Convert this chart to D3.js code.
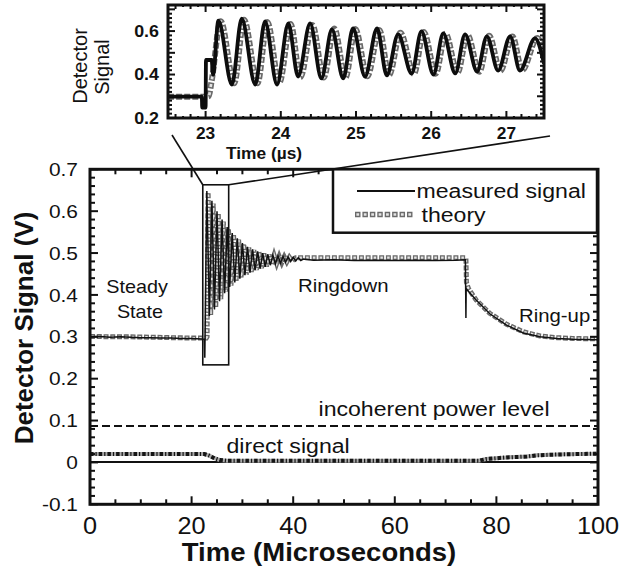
<!DOCTYPE html>
<html><head><meta charset="utf-8">
<script src="https://cdn.jsdelivr.net/npm/d3@7"></script>
<style>body{margin:0;background:#fff}svg{display:block;font-family:"Liberation Sans",Arial,sans-serif}</style>
</head><body><svg id="c" width="641" height="569"></svg>
<script>
// ---------- DATA ----------
const xTicks = [0, 20, 40, 60, 80, 100];
const yTicks = [-0.1, 0, 0.1, 0.2, 0.3, 0.4, 0.5, 0.6, 0.7];
const yTickLabels = ["-0.1", "0", "0.1", "0.2", "0.3", "0.4", "0.5", "0.6", "0.7"];
const insetXTicks = [23, 24, 25, 26, 27];
const insetYTicks = [0.2, 0.4, 0.6];

const measuredTime = [0, 2, 4, 6, 8, 10, 12, 14, 16, 18, 20, 22, 22.5, 22.6, 22.8,
  23, 23.5, 24, 24.5, 25, 25.5, 26, 26.5, 27, 27.5, 28, 28.5, 29, 29.5, 30, 30.5, 31, 31.5, 32, 32.5,
  33, 33.5, 34, 34.5, 35, 35.5, 36, 36.5, 37, 37.5, 38, 38.5, 39, 39.5, 40, 40.5, 41, 41.5, 42,
  44, 48, 52, 56, 60, 64, 68, 72, 73.9, 74.0, 74.05, 76, 78.7, 82, 85.3, 88.6, 91.9, 95.1, 100];
const measuredValue = [0.300, 0.301, 0.299, 0.300, 0.299, 0.298, 0.298, 0.297, 0.297, 0.296, 0.296, 0.295, 0.294, 0.25, 0.46,
  0.648, 0.350, 0.625, 0.365, 0.600, 0.385, 0.580, 0.404, 0.562, 0.419, 0.548, 0.430, 0.535, 0.439, 0.524, 0.447, 0.515, 0.453, 0.509, 0.459,
  0.504, 0.463, 0.500, 0.467, 0.497, 0.471, 0.495, 0.474, 0.493, 0.476, 0.492, 0.478, 0.491, 0.480, 0.490, 0.481, 0.489, 0.482, 0.486,
  0.483, 0.484, 0.482, 0.483, 0.482, 0.483, 0.482, 0.483, 0.484, 0.345, 0.415, 0.388, 0.355, 0.328, 0.309, 0.300, 0.296, 0.294, 0.293];

const theoryTime = [0, 4, 8, 12, 16, 20, 22.9, 23.05,
  23.25, 23.75, 24.25, 24.75, 25.25, 25.75, 26.25, 26.75, 27.25, 27.75, 28.25, 28.75, 29.25, 29.75, 30.25, 30.75,
  31.25, 31.75, 32.25, 32.75, 33.25, 33.75, 34.25, 34.75, 35.25, 35.75, 36.25, 36.75, 37.25, 37.75, 38.25, 38.75,
  39.25, 39.75, 40.5, 45, 50, 55, 60, 65, 70, 74.0, 74.1, 74.5, 76, 78.7, 82, 85.3, 88.6, 91.9, 95, 100];
const theoryValue = [0.301, 0.300, 0.300, 0.299, 0.298, 0.297, 0.297, 0.300,
  0.645, 0.352, 0.618, 0.370, 0.595, 0.390, 0.575, 0.408, 0.558, 0.422, 0.545, 0.432, 0.532, 0.441, 0.522, 0.448,
  0.513, 0.455, 0.507, 0.460, 0.503, 0.464, 0.499, 0.468, 0.496, 0.472, 0.494, 0.475, 0.492, 0.477, 0.491, 0.479,
  0.490, 0.481, 0.489, 0.489, 0.489, 0.489, 0.489, 0.489, 0.489, 0.489, 0.430, 0.415, 0.388, 0.356, 0.330, 0.312, 0.302, 0.298, 0.296, 0.295];

const directTime = [0, 10, 20, 22.5, 23.5, 24.5, 25.5, 27, 40, 60, 76.5, 78, 80, 82, 86, 88, 92, 96, 100];
const directValue = [0.020, 0.020, 0.020, 0.020, 0.016, 0.010, 0.006, 0.004, 0.004, 0.004, 0.004, 0.008, 0.010, 0.012, 0.014, 0.017, 0.019, 0.020, 0.021];
const baselineTime = [0, 100];
const baselineValue = [0.001, 0.001];
const incoherentLevel = 0.087;

const insetMeasuredTime = [22.5, 22.95, 22.955, 23.0, 23.005, 23.08, 23.1, 23.17, 23.35, 23.48, 23.66, 23.79, 23.95, 24.10,
  24.23, 24.39, 24.54, 24.68, 24.83, 24.96, 25.12, 25.28, 25.41, 25.56, 25.74, 25.87, 26.03, 26.16, 26.32, 26.45,
  26.61, 26.74, 26.89, 27.05, 27.18, 27.38, 27.5];
const insetMeasuredValue = [0.298, 0.298, 0.248, 0.248, 0.467, 0.467, 0.40, 0.648, 0.354, 0.657, 0.354, 0.645, 0.354, 0.635,
  0.391, 0.635, 0.382, 0.608, 0.382, 0.612, 0.391, 0.612, 0.396, 0.585, 0.405, 0.599, 0.400, 0.589, 0.405, 0.585,
  0.414, 0.576, 0.418, 0.576, 0.418, 0.566, 0.45];
const insetTheoryTime = [22.5, 23.0, 23.04, 23.08, 23.20, 23.38, 23.51, 23.69, 23.82, 23.98, 24.13, 24.26, 24.42, 24.57,
  24.71, 24.86, 24.99, 25.15, 25.31, 25.44, 25.59, 25.77, 25.90, 26.06, 26.19, 26.35, 26.48, 26.64, 26.77, 26.92,
  27.08, 27.21, 27.41, 27.5];
const insetTheoryValue = [0.298, 0.298, 0.300, 0.370, 0.645, 0.360, 0.652, 0.360, 0.642, 0.362, 0.632, 0.388, 0.628, 0.386,
  0.612, 0.386, 0.610, 0.392, 0.605, 0.398, 0.592, 0.403, 0.596, 0.404, 0.588, 0.408, 0.583, 0.413, 0.578, 0.417,
  0.575, 0.420, 0.568, 0.50];

const zoomBoxTime = [22.2, 27.3];
const zoomBoxValue = [0.233, 0.663];

// ---------- DRAW ----------
const svg = d3.select('#c');
const SX = 1.1;
const x = d3.scaleLinear().domain([0, 100]).range([90, 598]);
const y = d3.scaleLinear().domain([-0.1, 0.7]).range([504.3, 169.3]);
const ix = d3.scaleLinear().domain([22.5, 27.5]).range([168, 544]);
const iy = d3.scaleLinear().domain([0.2, 0.72]).range([118, 5]);

function text(g, tx, ty, s, size, opt = {}) {
  const t = g.append('text')
    .attr('transform', opt.rot ? `translate(${tx},${ty}) rotate(-90)` : `translate(${tx},${ty}) scale(${opt.sx || SX},1)`)
    .attr('font-size', size).attr('fill', '#111')
    .attr('text-anchor', opt.anchor || 'start')
    .attr('font-weight', opt.bold ? 'bold' : 'normal')
    .text(s);
  if (opt.dy) t.attr('dy', opt.dy);
  return t;
}
function theoryPath(g, d, w) {
  g.append('path').attr('d', d).attr('fill', 'none').attr('stroke', '#6a6a6a').attr('stroke-width', w)
    .attr('stroke-dasharray', `${w},${w * 0.35}`);
  g.append('path').attr('d', d).attr('fill', 'none').attr('stroke', '#e4e4e4').attr('stroke-width', w * 0.45)
    .attr('stroke-dasharray', `${w * 0.5},${w * 0.85}`).attr('stroke-dashoffset', -w * 0.25);
}
const zip = (a, b) => a.map((v, i) => [v, b[i]]);

// clip
const defs = svg.append('defs');
defs.append('clipPath').attr('id', 'mainClip').append('rect')
  .attr('x', x(0)).attr('y', y(0.7)).attr('width', x(100) - x(0)).attr('height', y(-0.1) - y(0.7));
defs.append('clipPath').attr('id', 'insetClip').append('rect')
  .attr('x', ix(22.5)).attr('y', iy(0.72)).attr('width', ix(27.5) - ix(22.5)).attr('height', iy(0.2) - iy(0.72));

// ----- main plot -----
const main = svg.append('g');
const plot = main.append('g').attr('clip-path', 'url(#mainClip)');
const line = d3.line().x(d => x(d[0])).y(d => y(d[1]));

plot.append('path').attr('d', line([[0, incoherentLevel], [100, incoherentLevel]]))
  .attr('stroke', '#111').attr('stroke-width', 2).attr('stroke-dasharray', '8,4').attr('fill', 'none');
plot.append('path').attr('d', line(zip(baselineTime, baselineValue)))
  .attr('stroke', '#111').attr('stroke-width', 2.2).attr('fill', 'none');
plot.append('path').attr('d', line(zip(directTime, directValue)))
  .attr('stroke', '#aaa').attr('stroke-width', 4).attr('fill', 'none');
plot.append('path').attr('d', line(zip(directTime, directValue)))
  .attr('stroke', '#151515').attr('stroke-width', 4).attr('stroke-dasharray', '3.5,2,1.2,2').attr('fill', 'none');

theoryPath(plot, line(zip(theoryTime, theoryValue)), 5);
plot.append('path').attr('d', line(zip(measuredTime, measuredValue)))
  .attr('stroke', '#111').attr('stroke-width', 1.5).attr('fill', 'none');

main.append('rect').attr('x', x(zoomBoxTime[0])).attr('y', y(zoomBoxValue[1]))
  .attr('width', x(zoomBoxTime[1]) - x(zoomBoxTime[0])).attr('height', y(zoomBoxValue[0]) - y(zoomBoxValue[1]))
  .attr('fill', 'none').attr('stroke', '#111').attr('stroke-width', 1.6);

const tk = main.append('g').attr('stroke', '#111');
y.ticks(40).forEach(v => {
  const major = Math.abs(Math.round(v * 10) - v * 10) < 1e-6;
  const L = major ? 8 : 5;
  tk.append('line').attr('x1', x(0)).attr('x2', x(0) + L).attr('y1', y(v)).attr('y2', y(v)).attr('stroke-width', 2);
  tk.append('line').attr('x1', x(100)).attr('x2', x(100) - L).attr('y1', y(v)).attr('y2', y(v)).attr('stroke-width', 2);
});
x.ticks(20).forEach(v => {
  const major = v % 20 === 0;
  const L = major ? 8 : 5;
  tk.append('line').attr('x1', x(v)).attr('x2', x(v)).attr('y1', y(-0.1)).attr('y2', y(-0.1) - L).attr('stroke-width', 2);
  tk.append('line').attr('x1', x(v)).attr('x2', x(v)).attr('y1', y(0.7)).attr('y2', y(0.7) + L).attr('stroke-width', 2);
});
main.append('rect').attr('x', x(0)).attr('y', y(0.7)).attr('width', x(100) - x(0)).attr('height', y(-0.1) - y(0.7))
  .attr('fill', 'none').attr('stroke', '#111').attr('stroke-width', 3);

yTicks.forEach((v, i) => text(main, 78, y(v), yTickLabels[i], 19, { anchor: 'end', dy: '0.35em' }));
xTicks.forEach(v => text(main, x(v), 534, String(v), 23, { anchor: 'middle' }));

text(main, 319, 561, 'Time (Microseconds)', 25, { anchor: 'middle', bold: true });
text(main, 33, 328, 'Detector Signal (V)', 26, { anchor: 'middle', bold: true, rot: true });

text(main, 137, 293, 'Steady', 18, { anchor: 'middle' });
text(main, 140, 318, 'State', 18, { anchor: 'middle' });
text(main, 298, 291.5, 'Ringdown', 18.5);
text(main, 519, 321.5, 'Ring-up', 18.5);
text(main, 318.5, 416, 'incoherent power level', 21);
text(main, 226.5, 453, 'direct signal', 21);

const lg = main.append('g');
lg.append('rect').attr('x', 333).attr('y', y(0.7)).attr('width', 597 - 333).attr('height', 232.7 - y(0.7))
  .attr('fill', '#fff').attr('stroke', '#111').attr('stroke-width', 2.5);
lg.append('line').attr('x1', 357).attr('x2', 415).attr('y1', 191).attr('y2', 191).attr('stroke', '#111').attr('stroke-width', 2);
theoryPath(lg, `M355,214.5H414`, 5.5);
text(lg, 416.5, 198, 'measured signal', 21);
text(lg, 421.5, 221.5, 'theory', 21);

// ----- inset -----
const inset = svg.append('g');
const iplot = inset.append('g').attr('clip-path', 'url(#insetClip)');
const iline = d3.line().x(d => ix(d[0])).y(d => iy(d[1])).curve(d3.curveMonotoneX);
theoryPath(iplot, iline(zip(insetTheoryTime, insetTheoryValue)), 6);
iplot.append('path').attr('d', iline(zip(insetMeasuredTime, insetMeasuredValue)))
  .attr('fill', 'none').attr('stroke', '#0d0d0d').attr('stroke-width', 3.8);

const itk = inset.append('g').attr('stroke', '#111');
iy.ticks(26).forEach(v => {
  const major = Math.abs(Math.round(v * 10) - v * 10) < 1e-6;
  const L = major ? 7 : 4;
  itk.append('line').attr('x1', ix(22.5)).attr('x2', ix(22.5) + L).attr('y1', iy(v)).attr('y2', iy(v)).attr('stroke-width', 2);
  itk.append('line').attr('x1', ix(27.5)).attr('x2', ix(27.5) - L).attr('y1', iy(v)).attr('y2', iy(v)).attr('stroke-width', 2);
});
ix.ticks(50).forEach(v => {
  const r = Math.round(v * 10);
  const L = r % 10 === 0 ? 7 : (r % 2 === 0 ? 4 : 2);
  itk.append('line').attr('x1', ix(v)).attr('x2', ix(v)).attr('y1', iy(0.2)).attr('y2', iy(0.2) - L).attr('stroke-width', 2);
  itk.append('line').attr('x1', ix(v)).attr('x2', ix(v)).attr('y1', iy(0.72)).attr('y2', iy(0.72) + L).attr('stroke-width', 2);
});
inset.append('rect').attr('x', ix(22.5)).attr('y', iy(0.72)).attr('width', ix(27.5) - ix(22.5)).attr('height', iy(0.2) - iy(0.72))
  .attr('fill', 'none').attr('stroke', '#111').attr('stroke-width', 3);

insetYTicks.forEach(v => text(inset, 159, iy(v), v.toFixed(1), 17, { anchor: 'end', dy: '0.35em', bold: true, sx: 1.05 }));
insetXTicks.forEach(v => text(inset, ix(v), 138.5, String(v), 16.5, { anchor: 'middle', bold: true, sx: 1.05 }));
text(inset, 264, 159, 'Time (µs)', 16.5, { anchor: 'middle', bold: true, sx: 1.05 });
text(inset, 87, 66, 'Detector', 20, { anchor: 'middle', rot: true });
text(inset, 109, 67, 'Signal', 20, { anchor: 'middle', rot: true });

svg.append('line').attr('x1', ix(22.5) + 4).attr('y1', iy(0.2) + 17)
  .attr('x2', x(zoomBoxTime[0])).attr('y2', y(zoomBoxValue[1])).attr('stroke', '#111').attr('stroke-width', 1.6);
svg.append('line').attr('x1', x(zoomBoxTime[1])).attr('y1', y(zoomBoxValue[1]))
  .attr('x2', ix(27.5) + 6).attr('y2', iy(0.2) + 18).attr('stroke', '#111').attr('stroke-width', 1.6);
</script></body></html>
